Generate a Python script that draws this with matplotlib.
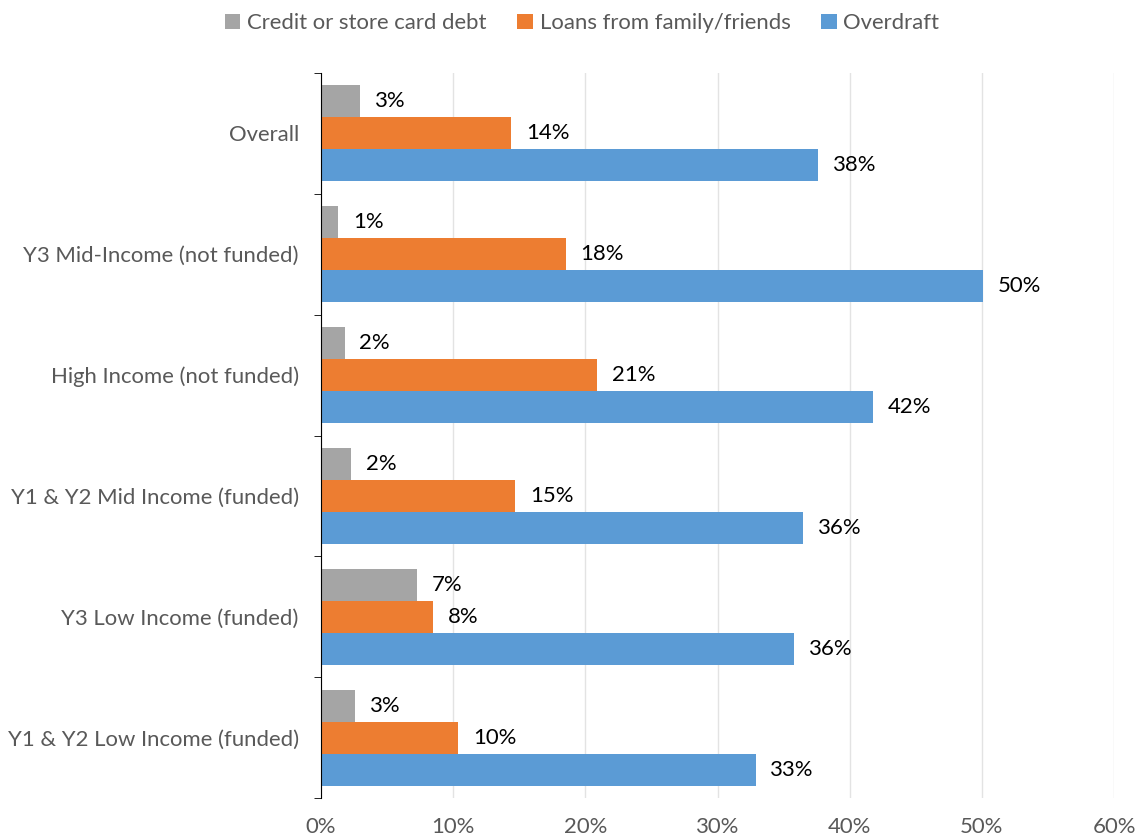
import numpy as np
import matplotlib.pyplot as plt
from matplotlib.ticker import FixedLocator, PercentFormatter

plt.rcParams['font.family'] = ['Lato', 'DejaVu Sans']

categories = ['Overall', 'Y3 Mid-Income (not funded)', 'High Income (not funded)',
              'Y1 & Y2 Mid Income (funded)', 'Y3 Low Income (funded)',
              'Y1 & Y2 Low Income (funded)']
credit = [2.95, 1.3, 1.8, 2.3, 7.3, 2.6]
loans = [14.4, 18.5, 20.9, 14.7, 8.5, 10.4]
overdraft = [37.6, 50.1, 41.8, 36.5, 35.8, 32.9]
series_names = ['Credit or store card debt', 'Loans from family/friends', 'Overdraft']
colors = ['#A5A5A5', '#ED7D31', '#5B9BD5']

fs = 15.9
fig = plt.figure(figsize=(11.46, 8.39), dpi=100)
ax = fig.add_axes([321/1146, 1 - 798/839, (1114-321)/1146, (798-73)/839])

n = len(categories)
y = np.arange(n)
h = 0.265
for k, (vals, name, c) in enumerate(zip([credit, loans, overdraft], series_names, colors)):
    pos = y + (k - 1) * h
    ax.barh(pos, vals, height=h, color=c, label=name, zorder=2)
    for p, v in zip(pos, vals):
        ax.text(v + 1.1, p, '%d%%' % round(v), va='center', ha='left', fontsize=fs)

ax.set_ylim(n - 0.5, -0.5)
ax.set_xlim(0, 60)
ax.set_xticks(np.arange(0, 61, 10))
ax.xaxis.set_major_formatter(PercentFormatter(decimals=0))
ax.set_yticks(y)
ax.set_yticklabels(categories, fontsize=fs, color='#595959')
ax.yaxis.set_minor_locator(FixedLocator(np.arange(-0.5, n, 1)))
ax.tick_params(axis='y', which='major', length=0, pad=16)
ax.tick_params(axis='y', which='minor', length=5, direction='out')
ax.tick_params(axis='x', length=0, labelsize=fs, pad=14, labelcolor='#595959')
ax.grid(axis='x', color='#E3E3E3', linewidth=1, zorder=0)
for s in ['top', 'right', 'bottom']:
    ax.spines[s].set_visible(False)
ax.spines['left'].set_zorder(3)

fig.legend(loc='upper center', bbox_to_anchor=(0.508, 1.008), ncol=3, frameon=False,
           fontsize=fs, handlelength=0.7, handleheight=0.7, handletextpad=0.3,
           columnspacing=1.4, labelcolor='#595959')

fig.savefig('out.png', dpi=100)
